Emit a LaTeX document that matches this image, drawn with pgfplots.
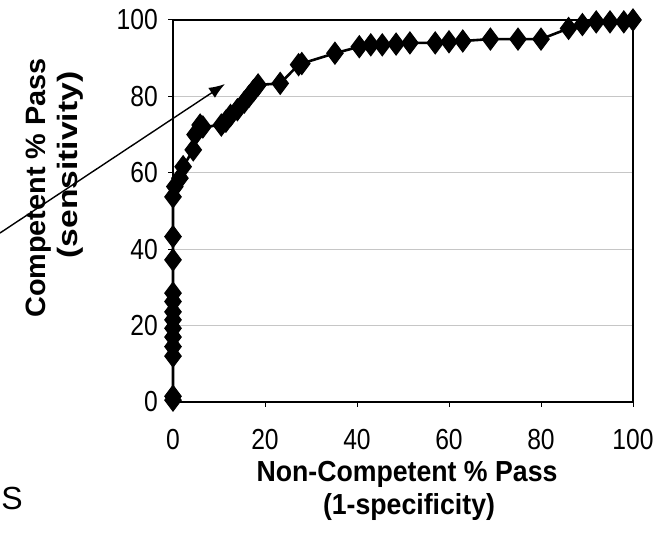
\documentclass[border=0pt]{standalone}
\usepackage{pgfplots}
\pgfplotsset{compat=1.18}
\usepackage{fontspec}
\setmainfont{Liberation Sans}
\newfontfamily\narrowfont[FakeStretch=0.85]{Liberation Sans}
\newfontfamily\xlabfont[FakeStretch=0.92]{Liberation Sans}
\newfontfamily\ylabfont[FakeStretch=1.03]{Liberation Sans}
\newfontfamily\widefont[FakeStretch=1.2]{Liberation Sans}
\usetikzlibrary{arrows.meta}
\pgfplotstableread{
x y
0 0.5
0 1.5
0 12
0 14.5
0 17
0 19.3
0 21.5
0 23.6
0 26.3
0 28.5
0 37.2
0 43.3
0 53.7
0.4 56.4
1.5 58.6
2.2 61.6
4.4 66
4.8 70
5.9 72.5
6.5 72
10.5 72.5
11.5 73.5
12.5 75
14 76.5
15.5 78.5
16.5 80
17.5 81.5
18.5 83
23.3 83.4
27.3 88.3
28 88.6
35.2 91.3
40.5 93
43 93.5
45.5 93.5
48.5 93.7
51.5 94
57 94
60 94.3
63 94.5
69 95
75 95
80 95
86 97.8
89 98.8
92 99.5
95 99.5
98 99.5
100 100
}\roc
\begin{document}
\begin{tikzpicture}[x=1pt,y=1pt]
\useasboundingbox (0,0) rectangle (662,535);
\begin{axis}[
  at={(173pt,133pt)}, anchor=south west,
  scale only axis, width=460pt, height=382pt,
  xmin=0, xmax=100, ymin=0, ymax=100,
  xtick={0,20,...,100}, ytick={0,20,...,100},
  ymajorgrids, grid style={gray!45, line width=1.3pt},
  axis line style={line width=2.8pt},
  tick style={black, line width=1pt},
  tick align=outside, major tick length=5pt,
  tick pos=left,
  clip=false,
  /pgf/number format/assume math mode=true,
  ticklabel style={font=\narrowfont\fontsize{29}{31}\selectfont, inner sep=0pt},
  xticklabel style={yshift=-22pt},
  yticklabel style={xshift=-10pt},
]
\addplot[black, line width=2.6pt, mark=diamond*, mark size=11pt,
  mark options={solid, fill=black, line width=1pt}] table[x=x, y=y] {\roc};
\end{axis}
\node[rotate=90, font=\ylabfont\bfseries\fontsize{28}{30}\selectfont] at (39,347) {Competent \% Pass};
\node[rotate=90, font=\widefont\bfseries\fontsize{28}{30}\selectfont] at (70,370) {(sensitivity)};
\node[font=\xlabfont\bfseries\fontsize{29}{31}\selectfont] at (407,61) {Non-Competent \% Pass};
\node[font=\xlabfont\bfseries\fontsize{29}{31}\selectfont] at (409,28) {(1-specificity)};
\node[font=\fontsize{32}{34}\selectfont] at (12,37) {S};
\draw[line width=1.4pt, -{Latex[length=16pt, width=12pt]}] (0,302) -- (225,451);
\end{tikzpicture}
\end{document}
